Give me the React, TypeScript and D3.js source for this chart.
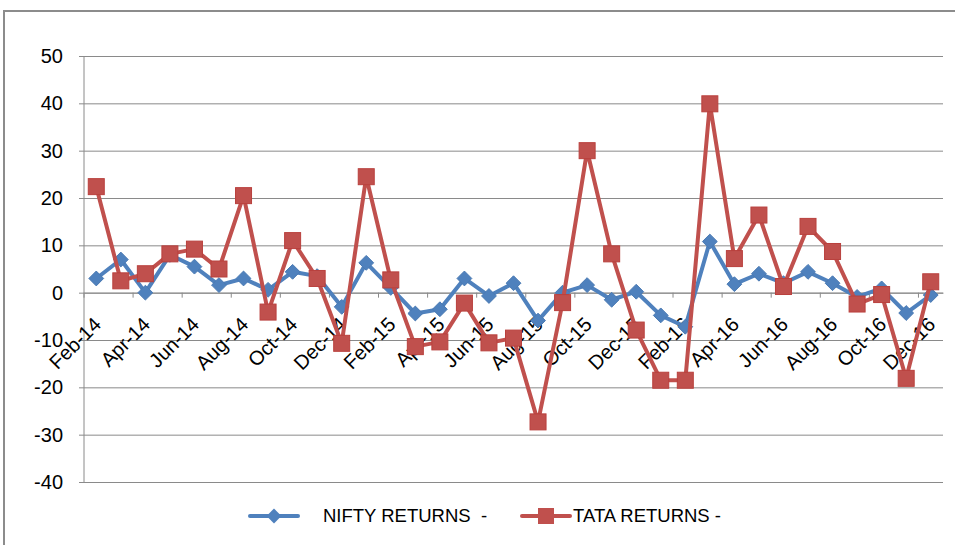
import React, { useEffect, useRef } from 'react';
import * as d3 from 'd3';

const WIDTH = 955;
const HEIGHT = 545;

const MARGIN = { top: 56, right: 12, bottom: 63, left: 84 };

const MONTHS = [
  'Feb-14', 'Mar-14', 'Apr-14', 'May-14', 'Jun-14', 'Jul-14', 'Aug-14', 'Sep-14', 'Oct-14', 'Nov-14', 'Dec-14',
  'Jan-15', 'Feb-15', 'Mar-15', 'Apr-15', 'May-15', 'Jun-15', 'Jul-15', 'Aug-15', 'Sep-15', 'Oct-15', 'Nov-15', 'Dec-15',
  'Jan-16', 'Feb-16', 'Mar-16', 'Apr-16', 'May-16', 'Jun-16', 'Jul-16', 'Aug-16', 'Sep-16', 'Oct-16', 'Nov-16', 'Dec-16',
];

const NIFTY = [
  3, 7, 0, 8, 5.5, 1.6, 3, 0.6, 4.4, 3.5, -3,
  6.3, 1, -4.4, -3.5, 3, -0.7, 2, -5.9, 0, 1.6, -1.5, 0.2,
  -4.8, -7.2, 10.8, 1.8, 4, 2, 4.4, 2, -0.9, 0.9, -4.3, -0.5,
];

const TATA = [
  22.4, 2.5, 4, 8.2, 9.2, 5, 20.5, -4.1, 11, 3, -10.7,
  24.5, 2.7, -11.4, -10.4, -2.2, -10.6, -9.6, -27.3, -2.1, 30, 8.2, -7.9,
  -18.5, -18.5, 39.9, 7.2, 16.4, 1.3, 14, 8.7, -2.4, -0.4, -18.1, 2.3,
];

const Y_TICKS = [50, 40, 30, 20, 10, 0, -10, -20, -30, -40];

const BLUE = '#4F81BD';
const RED = '#C0504D';
const GRID = '#8a8a8a';
const FONT = '"Liberation Sans", Arial, sans-serif';

export default function App() {
  const ref = useRef<SVGSVGElement>(null);

  useEffect(() => {
    const svg = d3.select(ref.current);
    svg.selectAll('*').remove();

    const x = d3.scaleBand<string>()
      .domain(MONTHS)
      .range([MARGIN.left, WIDTH - MARGIN.right]);

    const y = d3.scaleLinear()
      .domain([-40, 50])
      .range([HEIGHT - MARGIN.bottom, MARGIN.top]);

    const cx = (i: number) => (x(MONTHS[i]) as number) + x.bandwidth() / 2;

    // outer frame
    svg.append('rect')
      .attr('x', 4).attr('y', 11)
      .attr('width', WIDTH + 20).attr('height', HEIGHT + 20)
      .attr('fill', 'white')
      .attr('stroke', '#8c8c8c')
      .attr('stroke-width', 2);

    // gridlines + y axis
    const yAxis = d3.axisLeft(y)
      .tickValues(Y_TICKS)
      .tickFormat(d => String(d))
      .tickSize(-(WIDTH - MARGIN.right - MARGIN.left))
      .tickPadding(21);

    svg.append('g')
      .attr('transform', `translate(${MARGIN.left}, 0)`)
      .call(yAxis)
      .call(g => g.select('.domain').remove())
      .call(g => g.selectAll('.tick line').attr('stroke', GRID).attr('x1', -5))
      .call(g => g.selectAll('.tick text')
        .attr('font-family', FONT)
        .attr('font-size', 20)
        .attr('fill', '#000'));

    svg.append('line')
      .attr('x1', MARGIN.left).attr('x2', MARGIN.left)
      .attr('y1', y(50)).attr('y2', y(-40))
      .attr('stroke', GRID);

    // x axis at zero
    const xAxis = d3.axisBottom(x)
      .tickValues(MONTHS.filter((_, i) => i % 2 === 0))
      .tickSize(0)
      .tickSizeOuter(0);

    const gx = svg.append('g')
      .attr('transform', `translate(0, ${y(0)})`)
      .call(xAxis)
      .call(g => g.select('.domain').attr('stroke', GRID));

    gx.selectAll('.tick text')
      .attr('font-family', FONT)
      .attr('font-size', 20)
      .attr('fill', '#000')
      .attr('text-anchor', 'end')
      .attr('y', 0)
      .attr('dy', 0)
      .attr('transform', 'translate(6, 33) rotate(-45)');

    // tick marks between every second category
    gx.selectAll('.boundary')
      .data(d3.range(0, MONTHS.length + 1, 2))
      .enter()
      .append('line')
      .attr('x1', i => MARGIN.left + i * x.step())
      .attr('x2', i => MARGIN.left + i * x.step())
      .attr('y1', 0).attr('y2', 5)
      .attr('stroke', GRID);

    const line = d3.line<number>()
      .x((_, i) => cx(i))
      .y(d => y(d));

    // NIFTY
    svg.append('path')
      .datum(NIFTY)
      .attr('d', line)
      .attr('fill', 'none')
      .attr('stroke', BLUE)
      .attr('stroke-width', 4)
      .attr('stroke-linejoin', 'round');

    const diamond = d3.symbol().type(d3.symbolDiamond2).size(140);

    svg.selectAll('.nifty')
      .data(NIFTY)
      .enter()
      .append('path')
      .attr('d', diamond)
      .attr('transform', (d, i) => `translate(${cx(i)}, ${y(d)})`)
      .attr('fill', BLUE)
      .attr('stroke', '#4a7ab3');

    // TATA
    svg.append('path')
      .datum(TATA)
      .attr('d', line)
      .attr('fill', 'none')
      .attr('stroke', RED)
      .attr('stroke-width', 4)
      .attr('stroke-linejoin', 'round');

    svg.selectAll('.tata')
      .data(TATA)
      .enter()
      .append('rect')
      .attr('x', (d, i) => cx(i) - 8)
      .attr('y', d => y(d) - 8)
      .attr('width', 16)
      .attr('height', 16)
      .attr('fill', RED)
      .attr('stroke', '#b9403d');

    // legend
    const legend = svg.append('g').attr('transform', 'translate(0, 516)');

    legend.append('line')
      .attr('x1', 250).attr('x2', 298)
      .attr('stroke', BLUE).attr('stroke-width', 4).attr('stroke-linecap', 'round');
    legend.append('path')
      .attr('d', diamond)
      .attr('transform', 'translate(274, 0)')
      .attr('fill', BLUE);
    legend.append('text')
      .attr('x', 323).attr('y', 0).attr('dy', '0.35em')
      .attr('font-family', FONT).attr('font-size', 18.5)
      .attr('xml:space', 'preserve')
      .text('NIFTY RETURNS  -');

    legend.append('line')
      .attr('x1', 522).attr('x2', 570)
      .attr('stroke', RED).attr('stroke-width', 4).attr('stroke-linecap', 'round');
    legend.append('rect')
      .attr('x', 538).attr('y', -8)
      .attr('width', 16).attr('height', 16)
      .attr('fill', RED);
    legend.append('text')
      .attr('x', 573).attr('y', 0).attr('dy', '0.35em')
      .attr('font-family', FONT).attr('font-size', 18.5)
      .text('TATA RETURNS -');
  }, []);

  return (
    <svg
      ref={ref}
      width={WIDTH}
      height={HEIGHT}
      style={{ position: 'absolute', left: 0, top: 0, background: 'white' }}
    />
  );
}
